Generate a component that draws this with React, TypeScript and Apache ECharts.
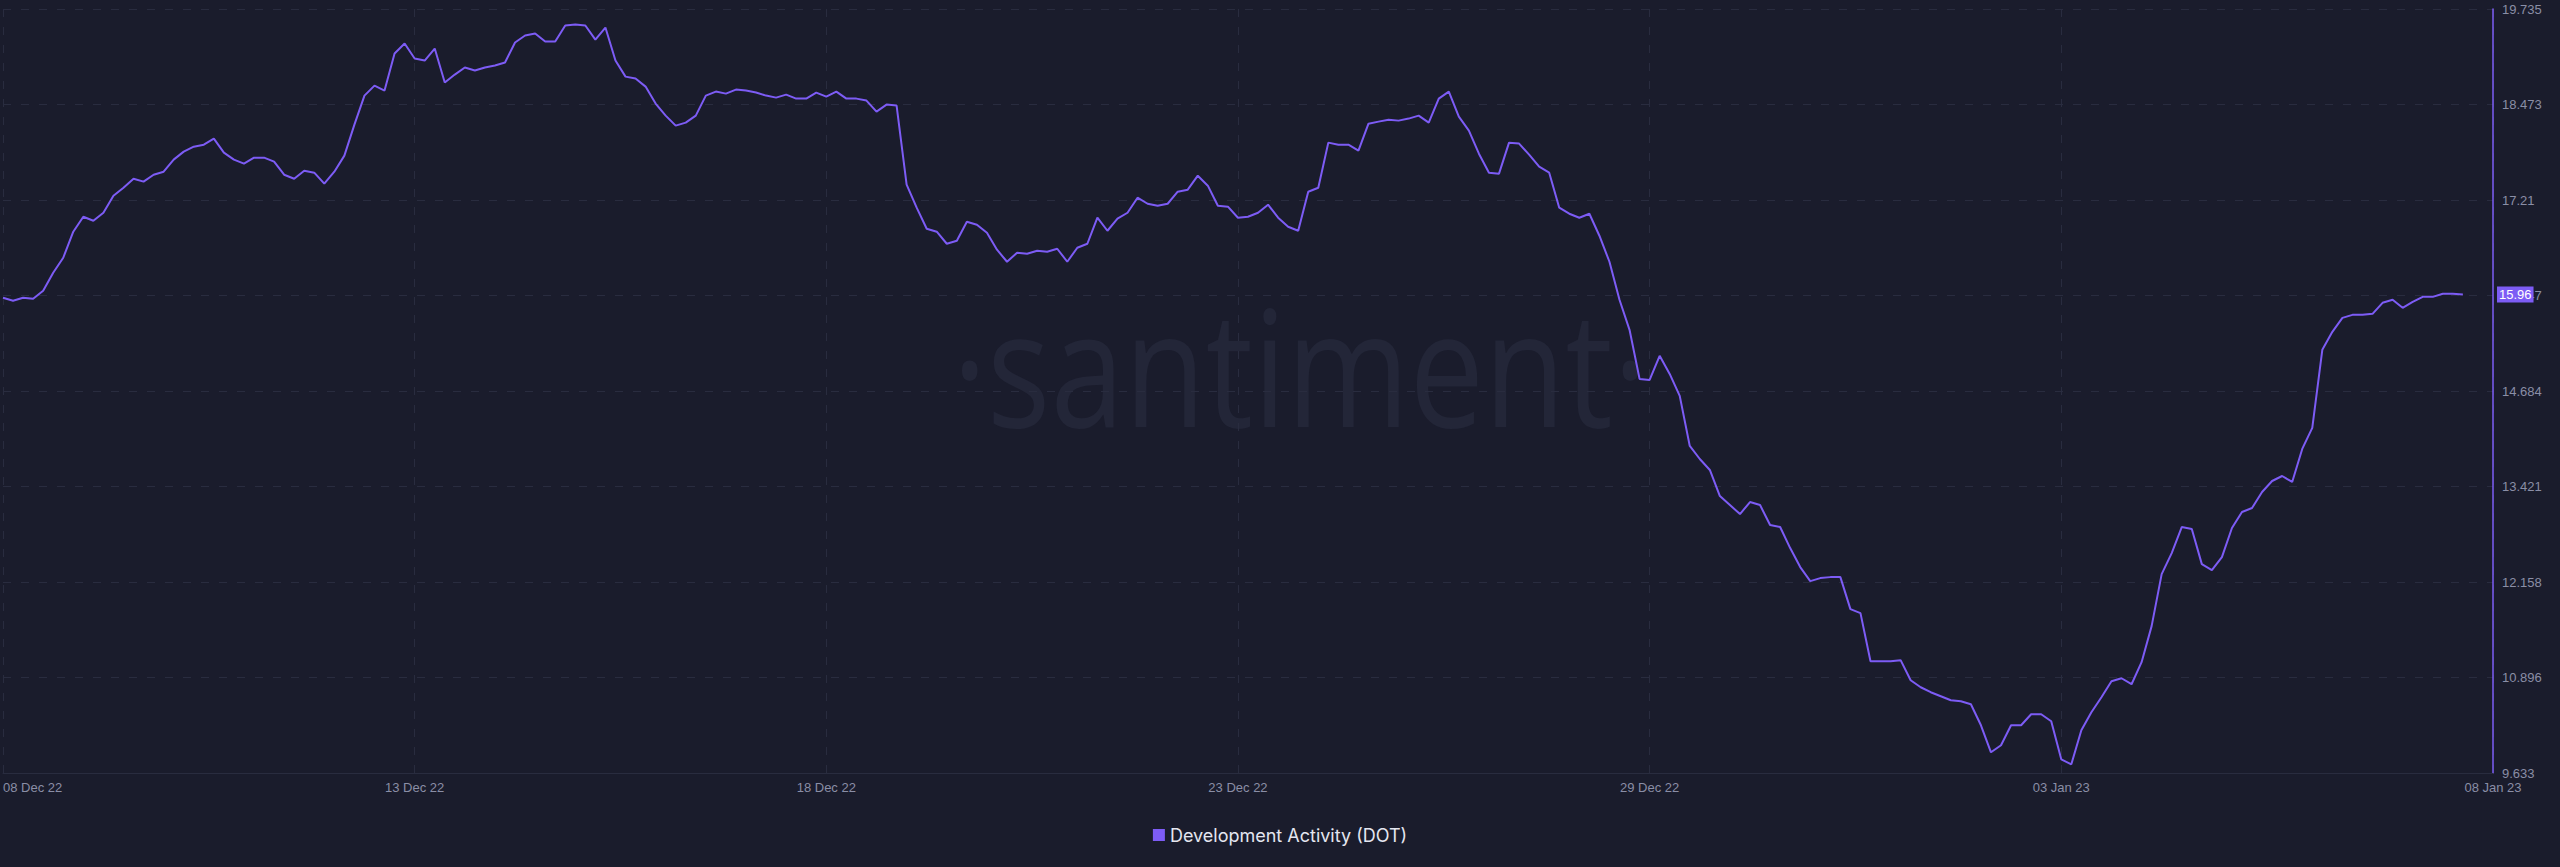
import React, { useEffect, useRef } from "react";
import * as echarts from "echarts";

// ---- data ----
const seriesName = "Development Activity (DOT)";

// 3-hour samples starting 08 Dec 22 12:00
const devActivity: number[] = [
  15.916, 15.877, 15.916, 15.903, 16.009, 16.247, 16.446, 16.79, 16.988, 16.935,
  17.041, 17.266, 17.372, 17.491, 17.452, 17.544, 17.584, 17.743, 17.849, 17.915,
  17.941, 18.021, 17.835, 17.743, 17.69, 17.769, 17.769, 17.716, 17.544, 17.491,
  17.597, 17.571, 17.425, 17.584, 17.796, 18.206, 18.59, 18.722, 18.656, 19.146,
  19.278, 19.08, 19.053, 19.212, 18.762, 18.868, 18.961, 18.921, 18.961, 18.987,
  19.027, 19.292, 19.384, 19.411, 19.305, 19.305, 19.517, 19.53, 19.517, 19.331,
  19.49, 19.053, 18.841, 18.815, 18.709, 18.484, 18.325, 18.193, 18.233, 18.325,
  18.59, 18.643, 18.616, 18.669, 18.656, 18.63, 18.59, 18.563, 18.603, 18.55,
  18.55, 18.63, 18.577, 18.643, 18.55, 18.55, 18.524, 18.378, 18.471, 18.458,
  17.412, 17.108, 16.83, 16.79, 16.631, 16.671, 16.922, 16.882, 16.777, 16.552,
  16.393, 16.512, 16.499, 16.538, 16.525, 16.565, 16.393, 16.578, 16.631, 16.975,
  16.803, 16.962, 17.041, 17.24, 17.16, 17.134, 17.16, 17.319, 17.346, 17.531,
  17.399, 17.134, 17.121, 16.975, 16.988, 17.041, 17.147, 16.975, 16.856, 16.803,
  17.319, 17.372, 17.968, 17.941, 17.941, 17.862, 18.219, 18.246, 18.272, 18.259,
  18.286, 18.325, 18.233, 18.55, 18.643, 18.312, 18.127, 17.822, 17.571, 17.558,
  17.968, 17.955, 17.809, 17.65, 17.571, 17.108, 17.028, 16.975, 17.028, 16.737,
  16.393, 15.89, 15.493, 14.844, 14.831, 15.149, 14.91, 14.619, 13.957, 13.785,
  13.64, 13.295, 13.176, 13.057, 13.216, 13.176, 12.912, 12.885, 12.607, 12.356,
  12.17, 12.21, 12.223, 12.223, 11.8, 11.747, 11.111, 11.111, 11.111, 11.125,
  10.86, 10.767, 10.701, 10.648, 10.595, 10.582, 10.542, 10.264, 9.907, 10.0,
  10.264, 10.264, 10.41, 10.41, 10.317, 9.814, 9.748, 10.198, 10.436, 10.635,
  10.847, 10.886, 10.807, 11.098, 11.575, 12.263, 12.541, 12.885, 12.859, 12.395,
  12.316, 12.488, 12.872, 13.084, 13.137, 13.348, 13.494, 13.56, 13.481, 13.918,
  14.196, 15.228, 15.466, 15.651, 15.691, 15.691, 15.704, 15.85, 15.89, 15.784,
  15.863, 15.929, 15.929, 15.969, 15.969, 15.96,
];
const lastValueLabel = "15.96";

const categoryCount = 249; // 3-hour steps from 08 Dec 22 12:00 to 08 Jan 23 12:00
const xTickIndex = [0, 41, 82, 123, 164, 205, 248];
const xTickLabels = ["08 Dec 22", "13 Dec 22", "18 Dec 22", "23 Dec 22", "29 Dec 22", "03 Jan 23", "08 Jan 23"];

const yMin = 9.633;
const yMax = 19.735;
const yTickLabels = ["9.633", "10.896", "12.158", "13.421", "14.684", "15.947", "17.21", "18.473", "19.735"];

// ---- style ----
const BG = "#1a1c2c";
const PURPLE = "#7d5cf5";
const GRID = "#292c3f";
const LABEL = "#8a8ea6";
const FONT = "'Liberation Sans', Arial, sans-serif";

const ySteps = yTickLabels.length - 1;
const toAxis = (v: number) => ((v - yMin) / (yMax - yMin)) * ySteps;

const categories: string[] = [];
{
  const start = Date.UTC(2022, 11, 8, 12);
  for (let i = 0; i < categoryCount; i++) {
    const d = new Date(start + i * 3 * 3600 * 1000);
    categories.push(d.toISOString().slice(0, 13));
  }
}

export default function App() {
  const ref = useRef<HTMLDivElement>(null);

  useEffect(() => {
    if (!ref.current) return;
    const chart = echarts.init(ref.current, null, { renderer: "svg" });
    const isTick = (i: number) => xTickIndex.indexOf(i) >= 0;
    const option: any = {
      animation: false,
      backgroundColor: BG,
      grid: { left: 0, right: 67, top: 9, bottom: 94, containLabel: false },
      legend: {
        data: [seriesName],
        top: 826,
        left: "center",
        padding: 0,
        icon: "rect",
        itemWidth: 12,
        itemHeight: 12,
        itemGap: 10,
        textStyle: { color: "#e4e6f0", fontSize: 18, fontFamily: "Inter, 'Noto Sans', sans-serif" },
      },
      graphic: [
        {
          type: "text",
          x: 1300,
          y: 364,
          scaleX: 0.82,
          silent: true,
          z: 0,
          style: {
            text: "\u00b7santiment\u00b7",
            fontSize: 162,
            fontFamily: "'Open Sans', sans-serif",
            fontWeight: 400,
            fill: "#232638",
            align: "center",
            verticalAlign: "middle",
          },
        },
      ],
      xAxis: {
        type: "category",
        boundaryGap: false,
        data: categories,
        axisLine: { show: true, lineStyle: { color: GRID, width: 1 } },
        axisTick: { show: false },
        axisLabel: {
          interval: (i: number) => isTick(i),
          formatter: (_v: string, i: number) => {
            const k = xTickIndex.indexOf(i);
            return k >= 0 ? xTickLabels[k] : "";
          },
          color: LABEL,
          fontSize: 13,
          fontFamily: FONT,
          margin: 8,
          showMinLabel: true,
          showMaxLabel: true,
          alignMinLabel: "left",
        },
        splitLine: {
          show: true,
          interval: (i: number) => isTick(i),
          lineStyle: { color: GRID, type: [8, 10], width: 1 },
        },
      },
      yAxis: {
        type: "value",
        position: "right",
        min: 0,
        max: ySteps,
        interval: 1,
        axisLine: { show: true, lineStyle: { color: PURPLE, width: 1.5 } },
        axisTick: { show: false },
        axisLabel: {
          color: LABEL,
          fontSize: 13,
          fontFamily: FONT,
          margin: 9,
          formatter: (v: number) => yTickLabels[Math.round(v)] ?? "",
        },
        splitLine: { show: true, lineStyle: { color: GRID, type: [8, 10], width: 1 } },
      },
      series: [
        {
          name: seriesName,
          type: "line",
          data: devActivity.map(toAxis),
          showSymbol: false,
          symbol: "none",
          color: PURPLE,
          lineStyle: { color: PURPLE, width: 2 },
          z: 3,
          markLine: {
            silent: true,
            symbol: ["none", "none"],
            lineStyle: { color: "rgba(0,0,0,0)", width: 0, type: "solid" },
            emphasis: { disabled: true },
            data: [{ yAxis: toAxis(devActivity[devActivity.length - 1]) }],
            label: {
              show: true,
              position: "end",
              distance: 4,
              formatter: lastValueLabel,
              color: "#ffffff",
              opacity: 1,
              backgroundColor: PURPLE,
              padding: [2, 2, 1, 2],
              fontSize: 13,
              fontFamily: FONT,
            },
          },
        },
      ],
    };
    chart.setOption(option);
    return () => chart.dispose();
  }, []);

  return (
    <div
      ref={ref}
      style={{ position: "fixed", left: 0, top: 0, width: 2560, height: 867, background: BG }}
    />
  );
}
